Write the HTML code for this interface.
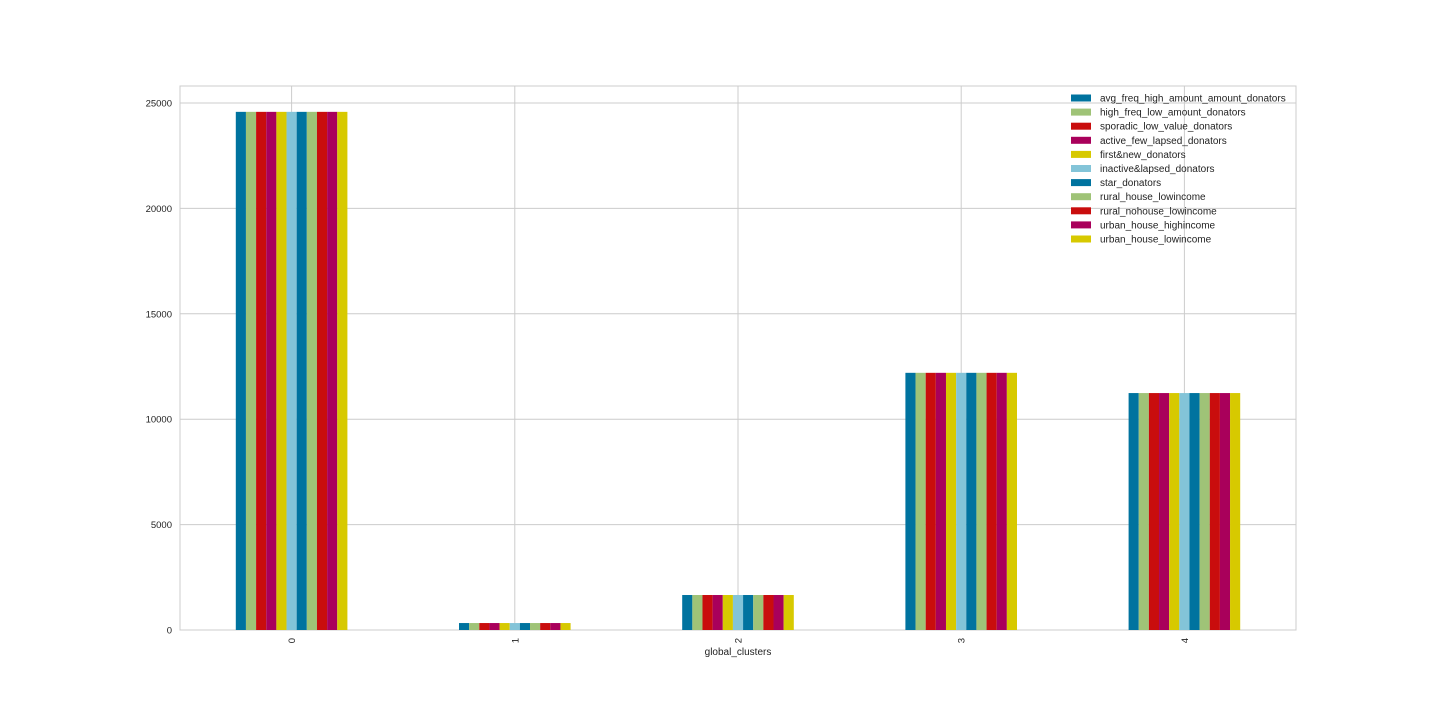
<!DOCTYPE html>
<html><head><meta charset="utf-8"><style>
body{margin:0;background:#fff;font-family:"Liberation Sans",sans-serif}
svg{display:block}
</style></head><body>
<svg id="chart" width="1440" height="720"></svg>
<script>
const categories=["0","1","2","3","4"];
const seriesNames=["avg_freq_high_amount_amount_donators","high_freq_low_amount_donators","sporadic_low_value_donators","active_few_lapsed_donators","first&new_donators","inactive&lapsed_donators","star_donators","rural_house_lowincome","rural_nohouse_lowincome","urban_house_highincome","urban_house_lowincome"];
const clusterTotals=[24580,330,1660,12200,11240];
const yTicks=[0,5000,10000,15000,20000,25000];
const colors=["#00739f","#9fc377","#c90d0d","#a9005b","#d7c900","#83c4d8","#00739f","#9fc377","#c90d0d","#a9005b","#d7c900"];
const NS="http://www.w3.org/2000/svg";
const svg=document.getElementById('chart');
const L=180,R=1296,T=86,B=630;
const y0=630,yPer=(630-103)/25000;
const yS=v=>y0-v*yPer;
const step=(R-L)/5;
const xS=i=>L+step*(i+0.5);
function mk(tag,at,parent){const e=document.createElementNS(NS,tag);for(const k in at)e.setAttribute(k,at[k]);(parent||svg).appendChild(e);return e;}
const plot=mk('rect',{x:L,y:T,width:R-L,height:B-T,fill:'#fff',stroke:'#cccccc','stroke-width':1});


yTicks.forEach(t=>{
  const g=mk('line',{x1:L,x2:R,y1:yS(t),y2:yS(t),stroke:'#cccccc','stroke-width':1});
  
  
  const tx=mk('text',{x:L-8,y:yS(t)+3.5,'text-anchor':'end','font-size':9.5,fill:'#222'});
  tx.textContent=t;
  
  
});
categories.forEach((c,i)=>{
  const g=mk('line',{x1:xS(i),x2:xS(i),y1:T,y2:B,stroke:'#cccccc','stroke-width':1});
  
  
  const tx=mk('text',{x:0,y:0,'text-anchor':'end','font-size':9.5,fill:'#222',transform:`translate(${xS(i)+3.5},${B+8}) rotate(-90)`});
  tx.textContent=c;
  
  
});
const n=seriesNames.length, gw=step*0.5, bw=gw/n;
categories.forEach((c,i)=>{
  seriesNames.forEach((s,j)=>{
    const v=clusterTotals[i];
    const r=mk('rect',{x:xS(i)-gw/2+j*bw,y:yS(v),width:bw,height:y0-yS(v),fill:colors[j]});
    
    
  });
});
const xl=mk('text',{x:(L+R)/2,y:655,'text-anchor':'middle','font-size':10,fill:'#222'});
xl.textContent='global_clusters';


seriesNames.forEach((s,j)=>{
  const cy=98+j*14.1;
  const sw=mk('rect',{x:1071,y:cy-3.5,width:20,height:7,fill:colors[j]});
  
  
  const t=mk('text',{x:1100,y:cy+3.5,'font-size':10,fill:'#222'});
  t.textContent=s;
  
  
});
</script>
</body></html>
